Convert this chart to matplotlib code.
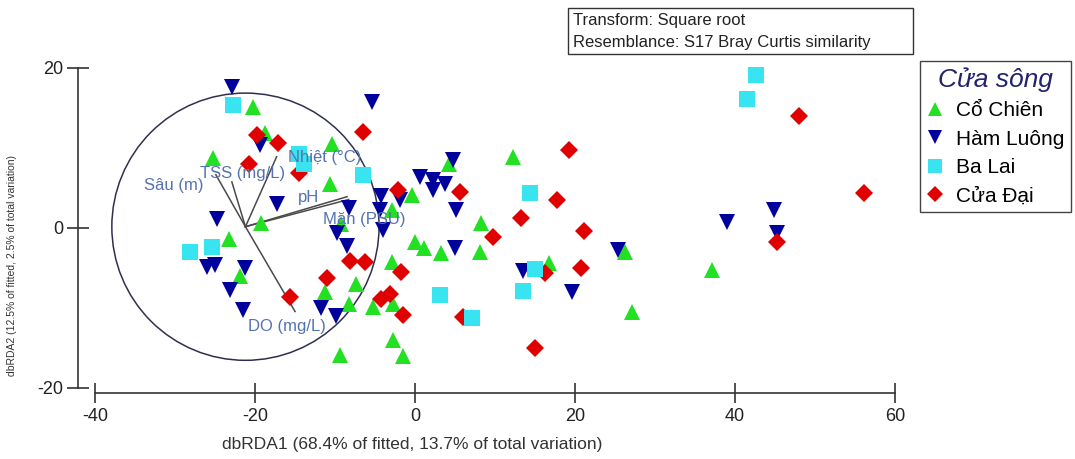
import matplotlib.pyplot as plt
from matplotlib.patches import Circle, Rectangle

plt.rcParams['font.family'] = ['Liberation Sans', 'DejaVu Sans']
plt.rcParams['axes.unicode_minus'] = False

# dbRDA scores, one pair of lists per estuary
co_chien_x = [-20.2, -18.75, -25.2, -10.4, -10.6, -19.3, -23.2, -21.9, -9.2, 4.2,
              -0.4, -2.9, 8.2, 12.3, 0.0, 1.1, 3.3, 8.1, 26.25, -2.9,
              -11.3, -7.4, -8.2, -5.2, -2.7, -2.7, -9.4, -1.5, 16.7, 27.1, 37.1]
co_chien_y = [15.1, 11.8, 8.65, 10.4, 5.5, 0.6, -1.4, -6.1, 0.4, 8.0,
              4.1, 2.2, 0.6, 8.85, -1.8, -2.5, -3.2, -3.0, -3.0, -4.3,
              -8.1, -7.0, -9.5, -9.9, -9.5, -14.0, -15.9, -16.1, -4.4, -10.5, -5.3]

ham_luong_x = [-22.9, -19.4, -5.4, -17.2, -24.8, -26.0, -25.0, -21.25, -23.1, -21.5,
               -11.7, -9.9, -9.8, -8.5, -4.0, -8.3, -4.3, -4.4, -1.9, 4.8,
               0.6, 2.3, 3.75, 2.3, 5.1, 5.0, 25.4, 13.5, 19.6, 39.0, 44.9, 45.3]
ham_luong_y = [17.6, 10.3, 15.7, 3.0, 1.1, -4.9, -4.7, -5.1, -7.8, -10.3,
               -10.1, -11.0, -0.7, -2.3, -0.3, 2.5, 3.9, 2.2, 3.4, 8.4,
               6.35, 5.9, 5.5, 4.7, 2.2, -2.6, -2.8, -5.4, -8.1, 0.7, 2.2, -0.7]

ba_lai_x = [-22.7, -14.5, -13.9, -6.5, -28.1, -25.4, 14.4, 3.1, 7.1, 13.5, 15.0, 41.5, 42.6]
ba_lai_y = [15.3, 9.2, 7.9, 6.6, -3.0, -2.4, 4.3, -8.4, -11.35, -7.9, -5.2, 16.1, 19.1]

cua_dai_x = [-19.8, -17.1, -20.8, -14.5, -6.5, -2.1, 5.6, 19.2, 17.7, 13.3,
             21.1, 9.8, -8.1, -6.2, -11.0, -1.7, -4.2, -3.1, -1.5, -15.6,
             6.0, 16.25, 20.7, 15.0, 48.0, 56.1, 45.2]
cua_dai_y = [11.6, 10.6, 8.0, 6.8, 11.9, 4.7, 4.4, 9.7, 3.4, 1.15,
             -0.4, -1.15, -4.2, -4.35, -6.25, -5.55, -8.9, -8.35, -10.9, -8.65,
             -11.2, -5.7, -5.1, -15.0, 13.9, 4.3, -1.8]

# predictor vectors, drawn from the centre of the correlation circle
vec_names = ["Sâu (m)", "TSS (mg/L)", "Nhiệt (°C)", "pH", "Mặn (PSU)", "DO (mg/L)"]
vec_x = [-24.9, -22.9, -17.3, -8.5, -8.3, -15.0]
vec_y = [6.6, 5.7, 8.85, 3.85, 3.5, -10.5]
circle_x, circle_y, circle_r = -21.2, 0.1, 16.7

fig = plt.figure(figsize=(10.75, 4.59), dpi=100)
ax = fig.add_axes([0.0698, 0.1383, 0.7777, 0.7495])
ax.set_xlim(-42.5, 62)
ax.set_ylim(-21, 22)

# circle + vectors
ax.add_patch(Circle((circle_x, circle_y), circle_r, fill=False,
                    edgecolor='#2e3050', lw=1.1, zorder=1))
for vx, vy in zip(vec_x, vec_y):
    ax.plot([circle_x, vx], [circle_y, vy], color='#4a4a4a', lw=1.1, zorder=1)

# label spots picked by eye (data units)
label_pos = {"Sâu (m)": (-30.2, 5.3), "TSS (mg/L)": (-21.6, 6.8),
             "Nhiệt (°C)": (-11.3, 8.8), "pH": (-13.25, 3.7),
             "Mặn (PSU)": (-6.4, 1.05), "DO (mg/L)": (-16.0, -12.4)}
for name in vec_names:
    lx, ly = label_pos[name]
    ax.text(lx, ly, name, color='#5572b0', fontsize=12, ha='center', va='center', zorder=5)

# points
ax.plot(co_chien_x, co_chien_y, '^', color='#22e022', ms=11.5, mew=0,
        ls='none', label='Cổ Chiên', zorder=2)
ax.plot(ham_luong_x, ham_luong_y, 'v', color='#00009c', ms=11.5, mew=0,
        ls='none', label='Hàm Luông', zorder=3)
ax.plot(cua_dai_x, cua_dai_y, 'D', color='#e00000', ms=9, mew=0,
        ls='none', label='Cửa Đại', zorder=4)
ax.plot(ba_lai_x, ba_lai_y, 's', color='#38e4f0', ms=11, mew=0,
        ls='none', label='Ba Lai', zorder=4)

# range-frame style axes
for s in ['top', 'right']:
    ax.spines[s].set_visible(False)
ax.spines['left'].set_position(('data', -42.1))
ax.spines['left'].set_bounds(-20, 20)
ax.spines['bottom'].set_position(('data', -20.65))
ax.spines['bottom'].set_bounds(-40, 60)
for s in ['left', 'bottom']:
    ax.spines[s].set_color('#333333')
    ax.spines[s].set_linewidth(1.2)

ax.set_xticks([-40, -20, 0, 20, 40, 60])
ax.set_yticks([-20, 0, 20])
ax.tick_params(axis='x', direction='inout', length=14, width=1.2, color='#333333',
               labelsize=13, pad=4, labelcolor='#222222')
ax.tick_params(axis='y', direction='inout', length=16, width=1.2, color='#333333',
               labelsize=13, pad=3, labelcolor='#222222')

fig.text(412 / 1075, 1 - 445 / 459, 'dbRDA1 (68.4% of fitted, 13.7% of total variation)',
         ha='center', va='center', fontsize=12.5, color='#333333')
fig.text(12 / 1075, 1 - 265 / 459, 'dbRDA2 (12.5% of fitted, 2.5% of total variation)',
         ha='center', va='center', rotation=90, fontsize=7.5, color='#333333')

# info box
fig.add_artist(Rectangle((568 / 1075, 1 - 54 / 459), 345 / 1075, 46 / 459,
                         transform=fig.transFigure, fill=False,
                         edgecolor='#333333', lw=1))
fig.text(573 / 1075, 1 - 20 / 459, 'Transform: Square root', fontsize=12,
         va='center', ha='left', color='#222222')
fig.text(573 / 1075, 1 - 42 / 459, 'Resemblance: S17 Bray Curtis similarity',
         fontsize=12, va='center', ha='left', color='#222222')

# legend
h, l = ax.get_legend_handles_labels()
order = [0, 1, 3, 2]
leg = ax.legend([h[i] for i in order], [l[i] for i in order],
                title='Cửa sông', loc='upper left',
                bbox_to_anchor=(920 / 1075, 1 - 61 / 459), bbox_transform=fig.transFigure,
                fontsize=15, title_fontproperties={'size': 19, 'style': 'italic'},
                handlelength=0.8, handletextpad=0.65, labelspacing=0.45,
                borderpad=0.3, borderaxespad=0, fancybox=False, framealpha=1,
                edgecolor='#444444', markerscale=0.9)
leg.get_title().set_color('#22226e')
leg.get_frame().set_linewidth(1)

fig.savefig('out.png', dpi=100)
